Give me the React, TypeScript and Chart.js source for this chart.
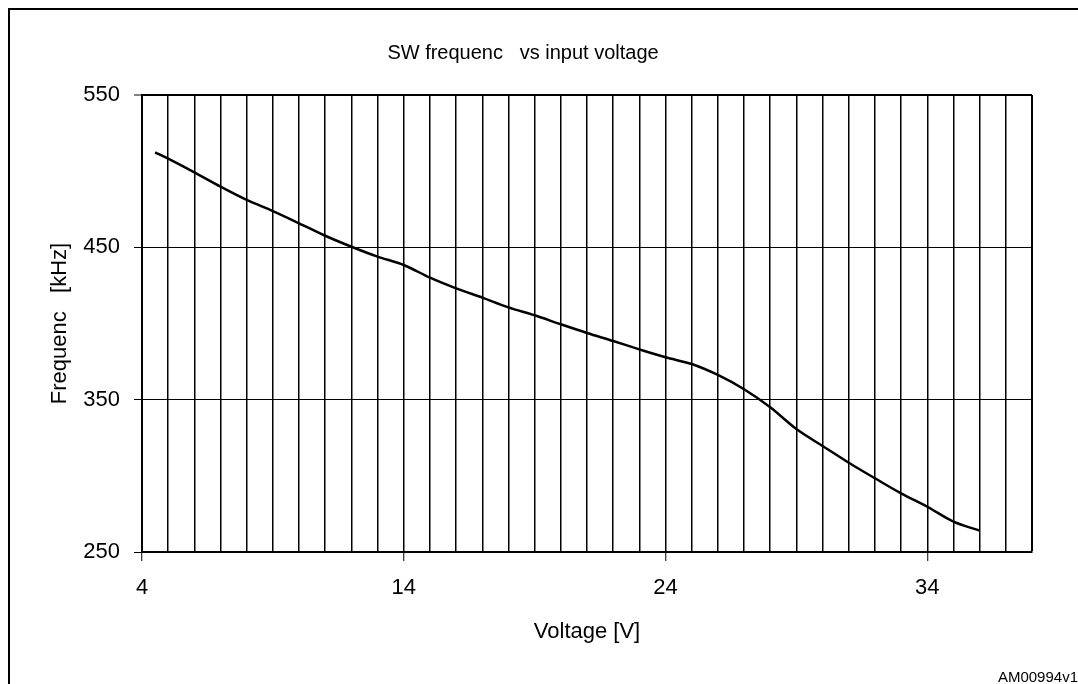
import React, { useEffect, useRef } from 'react';
import { Chart, registerables } from 'chart.js';

Chart.register(...registerables);

const voltage = [4.5, 5, 6, 7, 8, 9, 10, 11, 12, 13, 14, 15, 16, 17, 18, 19, 20, 21, 22, 23, 24, 25, 26, 27, 28, 29, 30, 31, 32, 33, 34, 35, 36];
const frequency = [512.4, 508.2, 499.2, 489.8, 481.1, 473.8, 465.8, 457.6, 450.4, 443.9, 438.4, 430.1, 423.1, 417, 410.6, 405.4, 399.5, 393.8, 388.5, 383, 377.8, 373.4, 366.2, 356.8, 345, 330.7, 319.6, 308.6, 298.4, 288.5, 279.7, 269.9, 264];
const xTickLabels = [4, 14, 24, 34];
const yTickValues = [250, 350, 450, 550];
const chartTitle = 'SW frequenc   vs input voltage';
const xTitle = 'Voltage [V]';
const yTitle = 'Frequenc   [kHz]';
const footnote = 'AM00994v1';

const FONT = '"Liberation Sans", Arial, sans-serif';

export default function App() {
  const ref = useRef<HTMLCanvasElement>(null);

  useEffect(() => {
    const chart = new Chart(ref.current!, {
      type: 'line',
      data: {
        datasets: [
          {
            data: voltage.map((v, i) => ({ x: v, y: frequency[i] })),
            borderColor: '#000',
            borderWidth: 2.5,
            pointRadius: 0,
            cubicInterpolationMode: 'monotone',
            fill: false,
          },
        ],
      },
      options: {
        responsive: false,
        animation: false,
        layout: { padding: { top: 85, right: 46, left: 0, bottom: 0 } },
        plugins: {
          legend: { display: false },
          tooltip: { enabled: false },
          title: { display: false },
        },
        scales: {
          x: {
            type: 'linear',
            min: 4,
            max: 38,
            afterFit: (s: any) => {
              s.height = 132;
            },
            ticks: {
              stepSize: 1,
              autoSkip: false,
              maxRotation: 0,
              padding: 14,
              color: '#000',
              font: { family: FONT, size: 22 },
              callback: (v: any) => (xTickLabels.includes(Number(v)) ? String(v) : ''),
            },
            grid: {
              color: '#000',
              lineWidth: (ctx: any) => (ctx.tick && ctx.tick.value === 38 ? 2 : 1.5),
              tickLength: 9,
              tickWidth: 1,
              tickColor: (ctx: any) => (ctx.tick && xTickLabels.includes(ctx.tick.value) ? '#000' : 'rgba(0,0,0,0)'),
            },
            border: { display: true, color: '#000', width: 2 },
            title: {
              display: true,
              text: xTitle,
              color: '#000',
              font: { family: FONT, size: 22 },
              padding: { top: 0, bottom: 39 },
            },
          },
          y: {
            type: 'linear',
            min: 250,
            max: 550,
            afterFit: (s: any) => {
              s.width = 132;
            },
            afterBuildTicks: (s: any) => {
              s.ticks = yTickValues.map((v) => ({ value: v }));
            },
            ticks: {
              padding: 14,
              color: '#000',
              font: { family: FONT, size: 22 },
            },
            grid: {
              color: '#000',
              lineWidth: (ctx: any) => (ctx.tick && ctx.tick.value === 550 ? 2 : 1),
              tickLength: 8,
              tickWidth: 1,
            },
            border: { display: true, color: '#000', width: 2 },
            title: {
              display: true,
              text: yTitle,
              color: '#000',
              font: { family: FONT, size: 22 },
              padding: { top: 37, bottom: 0 },
            },
          },
        },
      },
    } as any);
    return () => chart.destroy();
  }, []);

  return (
    <div
      style={{
        position: 'fixed',
        left: 8,
        top: 8,
        width: 1070,
        height: 676,
        boxSizing: 'border-box',
        borderTop: '2px solid #000',
        borderLeft: '2px solid #000',
        background: '#fff',
        fontFamily: FONT,
        color: '#000',
      }}
    >
      <canvas ref={ref} width={1068} height={674} style={{ display: 'block', position: 'absolute', left: 0, top: 0 }} />
      <div
        style={{
          position: 'absolute',
          left: 513,
          top: 42,
          transform: 'translate(-50%, -50%)',
          whiteSpace: 'pre',
          fontSize: 20,
          lineHeight: 1,
        }}
      >
        {chartTitle}
      </div>
      <div
        style={{
          position: 'absolute',
          right: 0,
          top: 666,
          transform: 'translateY(-50%)',
          whiteSpace: 'pre',
          fontSize: 15,
          lineHeight: 1,
        }}
      >
        {footnote}
      </div>
    </div>
  );
}
